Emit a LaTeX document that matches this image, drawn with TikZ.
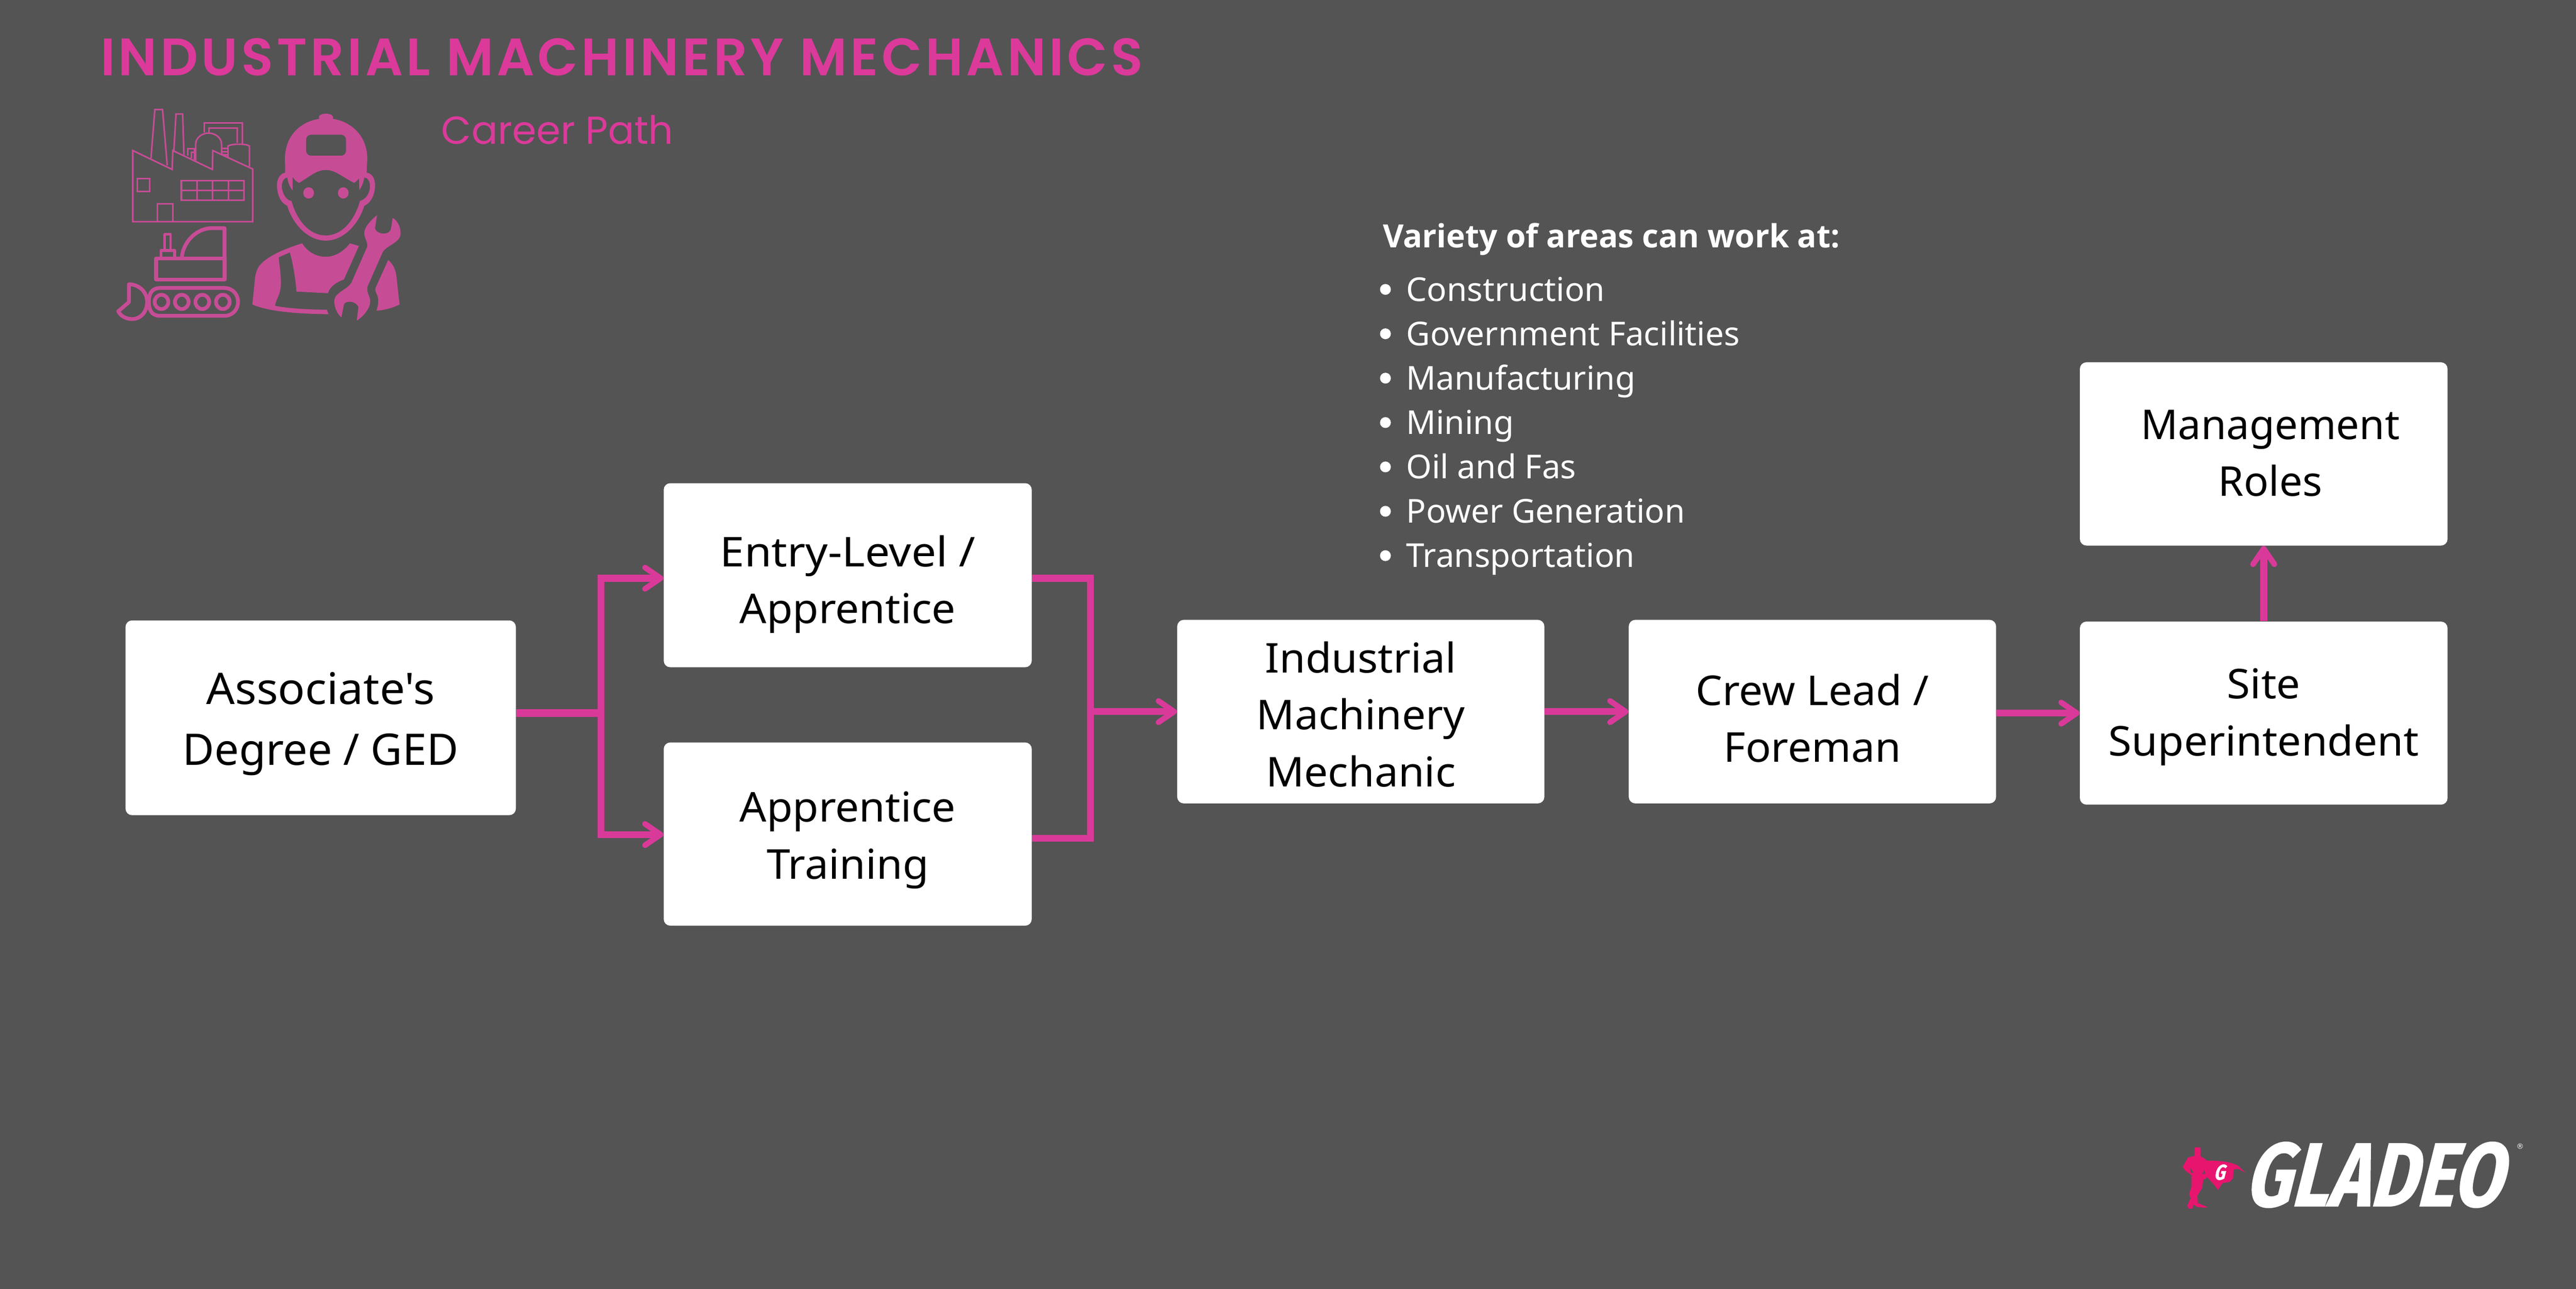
\documentclass[tikz,border=0pt]{standalone}
\usepackage{fontspec}
\usetikzlibrary{arrows.meta}
\setmainfont{Noto Sans}
\newfontfamily\plainbox{Noto Sans}
\newfontfamily\listfont{Noto Sans}
\newfontfamily\stretchbox{Noto Sans}[FakeStretch=1.03]
\newfontfamily\widebox{Noto Sans}[FakeStretch=1.07]
\newfontfamily\titlefont{Poppins SemiBold}[LetterSpace=6.3]
\newfontfamily\subfont{Poppins}
\newfontfamily\headfont{Open Sans}
\newfontfamily\logofont{Fira Sans}[FakeSlant=0.25,FakeStretch=0.79,FakeBold=1]
\newfontfamily\markfont{DejaVu Sans}
\definecolor{bgc}{HTML}{545454}
\definecolor{conn}{HTML}{D93A9A}
\definecolor{titlec}{HTML}{DB3A9A}
\definecolor{iconc}{HTML}{C74C96}
\definecolor{heroc}{HTML}{E8156F}
\newcommand{\boxtxt}[5]{\smash{\raisebox{#1pt}{\parbox[t]{#2pt}{\centering\fontsize{#3}{#4}\selectfont #5}}}}
\tikzset{
  careerbox/.style={rectangle,rounded corners=4pt,fill=white,draw=none,inner sep=0pt,text=black},
  link/.style={draw=conn,line width=4.2pt,line join=miter},
  linkhead/.style={-{Straight Barb[length=9.5pt,width=13pt,line width=3.4pt,round]}},
  item/.style={anchor=base west,inner sep=0pt,text=white,font=\listfont\fontsize{20}{24}\selectfont},
  dotmark/.style={circle,fill=white,inner sep=0pt,minimum size=6.6pt},
  thinicon/.style={draw=iconc,line width=0.95pt,line join=miter},
  midicon/.style={draw=iconc,line width=2.3pt,line join=round},
  fillicon/.style={fill=iconc,draw=none}
}
\begin{document}
\begin{tikzpicture}[x=1pt,y=-1pt]
\useasboundingbox (0,0) rectangle (1568,784);
\fill[bgc] (-5,-5) rectangle (1573,789);

% title
\node[anchor=base west,inner sep=0pt,text=titlec,font=\titlefont\fontsize{32}{36}\selectfont] (title) at (61,46) {INDUSTRIAL MACHINERY MECHANICS};
\node[anchor=base west,inner sep=0pt,text=titlec,font=\subfont\fontsize{23.7}{28}\selectfont] (subtitle) at (268.5,87.7) {Career Path};

% boxes
\node[careerbox,minimum width=237.6pt,minimum height=118.5pt] (assoc) at (195.2,436.75) {\boxtxt{8.25}{230}{26.5}{37.1}{\stretchbox Associate's\\\plainbox Degree / GED}};
\node[careerbox,minimum width=224pt,minimum height=112pt] (entry) at (516,350) {\boxtxt{5.3}{220}{25}{34.6}{\widebox Entry-Level /\\\stretchbox Apprentice}};
\node[careerbox,minimum width=224pt,minimum height=111.5pt] (train) at (516,507.5) {\boxtxt{7.6}{220}{25}{34.8}{\stretchbox Apprentice\\Training}};
\node[careerbox,minimum width=223.5pt,minimum height=111.7pt] (mech) at (828.3,433) {\boxtxt{23.7}{220}{25}{34.7}{\stretchbox Industrial\\Machinery\\Mechanic}};
\node[careerbox,minimum width=223.6pt,minimum height=111.7pt] (crew) at (1103.2,433) {\boxtxt{4}{220}{25}{34.8}{\stretchbox Crew Lead /\\Foreman}};
\node[careerbox,minimum width=223.8pt,minimum height=111.4pt] (site) at (1377.9,433.9) {\boxtxt{8.9}{220}{25}{34.9}{\stretchbox Site\\Superintendent}};
\node[careerbox,minimum width=223.8pt,minimum height=111.5pt] (mgmt) at (1377.9,276.2) {\boxtxt{9}{220}{25}{34.6}{\plainbox\hspace*{8pt}Management\\\hspace*{8pt}Roles}};

% connectors
\coordinate (jl) at (365.8,433.8);
\coordinate (jlt) at (365.8,351.8);
\coordinate (jlb) at (365.8,507.8);
\coordinate (jrt) at (663.8,351.8);
\coordinate (jrb) at (663.8,510);
\coordinate (jr) at (663.8,433);
\draw[link,line width=4.6pt] (assoc.east |- jl) -- (jl);
\draw[link,linkhead] (jl) -- (jlt) -- (entry.west |- jlt);
\draw[link,linkhead] (jl) -- (jlb) -- (train.west |- jlb);
\draw[link] (entry.east |- jrt) -- (jrt) -- (jrb) -- (train.east |- jrb);
\draw[link,linkhead] (jr) -- (mech.west |- jr);
\draw[link,linkhead] (mech.east) -- (crew.west);
\draw[link,linkhead] (crew.east |- site.west) -- (site.west);
\draw[link,linkhead] (site.north) -- (mgmt.south);

% list
\node[anchor=base west,inner sep=0pt,text=white,font=\headfont\fontsize{19.5}{24}\selectfont\bfseries] (listhead) at (841.5,150.6) {Variety of areas can work at:};
\node[item] (i1) at (855.8,183.2) {Construction};
\node[item] (i2) at (855.8,210.2) {Government Facilities};
\node[item] (i3) at (855.8,237.3) {Manufacturing};
\node[item] (i4) at (855.8,264.3) {Mining};
\node[item] (i5) at (855.8,291.2) {Oil and Fas};
\node[item] (i6) at (855.8,318.1) {Power Generation};
\node[item] (i7) at (855.8,345.1) {Transportation};
\node[dotmark] (d1) at (843.3,176.1) {};
\node[dotmark] (d2) at (843.3,203.1) {};
\node[dotmark] (d3) at (843.3,230.1) {};
\node[dotmark] (d4) at (843.3,257.1) {};
\node[dotmark] (d5) at (843.3,284.1) {};
\node[dotmark] (d6) at (843.3,311.1) {};
\node[dotmark] (d7) at (843.3,338.1) {};

% icons
\begin{scope}[shift={(54.4,54.4)},x=0.1302pt,y=-0.0984pt]
  % factory
  \draw[thinicon] (203,818) -- (203,378) -- (387,495) -- (390,378) -- (575,495) -- (577,378) -- (763,492) -- (763,818) -- cycle;
  \draw[thinicon] (288,425) -- (306,125) -- (342,125) -- (364,470);
  \draw[thinicon] (395,378) -- (405,152) -- (436,152) -- (442,405);
  \draw[thinicon] (225,552) rectangle (283,630);
  \draw[thinicon] (430,565) rectangle (722,686);
  \draw[thinicon] (430,625) -- (722,625);
  \draw[thinicon] (503,565) -- (503,686) (576,565) -- (576,686) (650,565) -- (650,686);
  \draw[thinicon] (317,818) -- (317,708) -- (390,708) -- (390,818);
  \draw[thinicon] (497,440) -- (497,340) .. controls (497,295) and (530,270) .. (557,270) .. controls (585,270) and (618,295) .. (618,340) -- (618,408);
  \draw[thinicon] (648,420) -- (648,350) .. controls (665,335) and (735,335) .. (748,350) -- (748,478);
  \draw[thinicon] (537,265) -- (537,208) -- (716,208) -- (716,335);
  \draw[thinicon] (560,275) -- (560,238) -- (692,238) -- (692,330);
  \draw[thinicon] (460,410) -- (460,367) -- (492,367) -- (492,435);
  \draw[thinicon] (478,425) -- (478,390) -- (492,390);
  \draw[thinicon] (618,365) -- (648,365) (618,385) -- (648,385) (618,402) -- (648,405);
  % excavator
  \draw[midicon] (432,1040) .. controls (440,930) and (510,858) .. (570,858) -- (632,858) -- (632,1045);
  \draw[midicon] (312,1045) rectangle (632,1175);
  \draw[midicon,line width=1.8pt] (335,1045) -- (335,995) -- (398,995) -- (398,1045);
  \draw[midicon,line width=1.4pt] (352,995) -- (352,895) -- (380,895) -- (380,995);
  \draw[midicon] (330,1228) -- (630,1228) .. controls (672,1228) and (695,1270) .. (695,1314) .. controls (695,1358) and (672,1400) .. (630,1400) -- (330,1400) .. controls (288,1400) and (278,1358) .. (278,1314) .. controls (278,1270) and (288,1228) .. (330,1228) -- cycle;
  \draw[midicon] (337,1314) ellipse [x radius=32,y radius=44];
  \draw[midicon] (432,1314) ellipse [x radius=32,y radius=44];
  \draw[midicon] (528,1314) ellipse [x radius=32,y radius=44];
  \draw[midicon] (624,1314) ellipse [x radius=32,y radius=44];
  \draw[midicon] (185,1205) -- (185,1315) -- (135,1372) .. controls (150,1410) and (180,1420) .. (200,1420) .. controls (240,1420) and (270,1375) .. (270,1314) .. controls (270,1250) and (230,1205) .. (185,1205) -- cycle;
  % worker: head and cap
  \fill[fillicon,even odd rule]
    (915,515) -- (915,460) .. controls (905,300) and (980,200) .. (1075,182)
    .. controls (1065,160) and (1090,150) .. (1105,150) .. controls (1125,150) and (1145,160) .. (1138,182)
    .. controls (1230,200) and (1310,300) .. (1298,460) -- (1296,515)
    .. controls (1330,520) and (1338,570) .. (1335,610) .. controls (1330,670) and (1310,705) .. (1285,720)
    .. controls (1260,830) and (1190,935) .. (1105,935) .. controls (1020,935) and (950,830) .. (925,720)
    .. controls (895,700) and (880,660) .. (877,600) .. controls (875,560) and (890,520) .. (915,515) -- cycle
    (1105,498) .. controls (1060,498) and (1030,540) .. (980,578) .. controls (970,572) and (955,555) .. (950,540)
    -- (950,625) .. controls (935,600) and (928,570) .. (925,545)
    .. controls (905,550) and (898,580) .. (900,610) .. controls (905,650) and (920,685) .. (945,690)
    .. controls (965,790) and (1020,903) .. (1105,903) .. controls (1190,903) and (1245,790) .. (1265,690)
    .. controls (1290,680) and (1310,650) .. (1312,600) .. controls (1312,565) and (1300,545) .. (1285,545)
    .. controls (1282,570) and (1275,600) .. (1262,622) -- (1260,550) .. controls (1255,560) and (1245,572) .. (1238,578)
    .. controls (1180,540) and (1150,498) .. (1105,498) -- cycle
    [rounded corners=3pt] (1013,280) rectangle (1200,410);
  \fill[fillicon] (1025,640) ellipse [x radius=25,y radius=35];
  \fill[fillicon] (1187,640) ellipse [x radius=25,y radius=35];
  % worker: torso
  \fill[fillicon] (995,952) .. controls (900,990) and (820,1040) .. (790,1100) .. controls (780,1125) and (778,1140) .. (775,1160) -- (762,1330)
    .. controls (840,1375) and (980,1388) .. (1118,1390) -- (1110,1362) .. controls (1030,1362) and (930,1355) .. (868,1338)
    .. controls (872,1290) and (900,1270) .. (895,1170) .. controls (893,1120) and (888,1080) .. (885,1038) -- (937,1008)
    .. controls (950,1060) and (965,1180) .. (968,1250) -- (1115,1260) .. controls (1125,1220) and (1150,1195) .. (1190,1175) -- (1260,968) -- (1218,952)
    .. controls (1190,1000) and (1150,1035) .. (1105,1035) .. controls (1060,1035) and (1020,1005) .. (995,952) -- cycle;
  \fill[fillicon] (1397,1055) .. controls (1420,1080) and (1430,1110) .. (1435,1150) -- (1450,1330) .. controls (1420,1350) and (1380,1365) .. (1342,1368)
    .. controls (1350,1340) and (1355,1300) .. (1345,1270) .. controls (1340,1255) and (1335,1245) .. (1337,1230) -- cycle;
  % wrench
  \fill[fillicon] (1345,778) .. controls (1310,815) and (1285,855) .. (1285,890) .. controls (1285,915) and (1300,940) .. (1300,970)
    -- (1225,1195) .. controls (1205,1240) and (1145,1255) .. (1145,1310) .. controls (1145,1350) and (1160,1390) .. (1178,1410)
    -- (1190,1330) .. controls (1195,1305) and (1245,1305) .. (1258,1345) -- (1250,1430)
    .. controls (1285,1400) and (1313,1350) .. (1313,1310) .. controls (1313,1280) and (1295,1260) .. (1300,1220)
    -- (1370,1010) .. controls (1385,965) and (1455,950) .. (1455,890) .. controls (1455,850) and (1440,810) .. (1418,795)
    -- (1410,860) .. controls (1405,905) and (1345,900) .. (1335,860) -- cycle;
\end{scope}

% logo
\begin{scope}[shift={(1315.8,680.6)},x=0.1447pt,y=-0.0756pt]
  \fill[heroc] (138,240) -- (142,232) -- (158,232) -- (163,240) -- (163,305) -- (180,322) -- (190,340)
    .. controls (240,335) and (300,350) .. (325,385) -- (353,437) -- (322,405) -- (302,410) -- (300,480) -- (285,510) -- (255,520) -- (237,575)
    -- (215,520) -- (190,470) -- (185,485) -- (175,490) -- (170,560) -- (150,620) -- (152,680) -- (190,710) -- (188,718) -- (150,712) -- (132,690)
    -- (130,725) -- (112,725) -- (108,700) -- (122,640) -- (115,610) -- (125,550) -- (125,455) -- (100,420) -- (88,390) -- (110,315) -- (138,300) -- cycle;
  \fill[bgc] (120,395) -- (133,435) -- (122,437) -- cycle;
  \fill[bgc] (170,445) -- (180,415) -- (183,445) -- cycle;
  \node[inner sep=0pt,text=white,font=\logofont\fontsize{13}{14}\selectfont\bfseries] (heroG) at (242,432) {G};
  \node[anchor=base west,inner sep=0pt,text=white,font=\logofont\fontsize{55}{60}\selectfont\bfseries] (logo) at (345,705) {GLADEO};
  \node[inner sep=0pt,text=white,font=\markfont\fontsize{4.5}{5}\selectfont] (reg) at (1508,222) {®};
\end{scope}
\end{tikzpicture}
\end{document}
